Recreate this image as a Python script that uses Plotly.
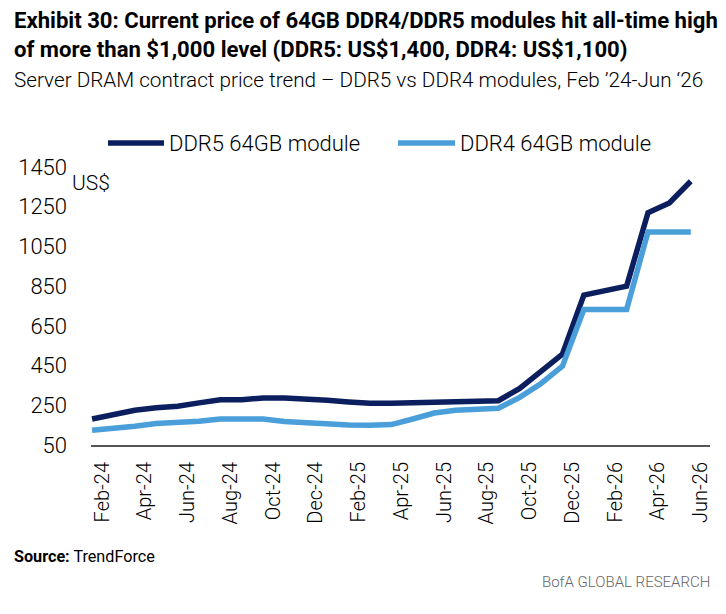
import plotly.graph_objects as go

months = ["Feb-24", "Mar-24", "Apr-24", "May-24", "Jun-24", "Jul-24", "Aug-24",
          "Sep-24", "Oct-24", "Nov-24", "Dec-24", "Jan-25", "Feb-25", "Mar-25",
          "Apr-25", "May-25", "Jun-25", "Jul-25", "Aug-25", "Sep-25", "Oct-25",
          "Nov-25", "Dec-25", "Jan-26", "Feb-26", "Mar-26", "Apr-26", "May-26",
          "Jun-26"]
ddr5 = [181, 202, 225, 238, 245, 262, 278, 278, 287, 287, 283, 275, 267, 260,
        260, 263, 267, 268, 270, 273, 335, 419, 508, 805, 828, 850, 1220, 1269,
        1378]
ddr4 = [124, 131, 144, 158, 161, 170, 181, 181, 181, 168, 161, 158, 151, 149,
        153, 181, 211, 225, 232, 235, 290, 360, 447, 732, 732, 732, 1123, 1123,
        1123]
tick_labels = months[::2]
y_ticks = [50, 250, 450, 650, 850, 1050, 1250, 1450]

DARK = "#0B1F5E"
LIGHT = "#4A9FDA"
FONT = "Roboto, sans-serif"

# plot area in pixels (726x614 page)
L, R, T, B = 91, 710, 167, 445.5

def px(x):
    return (x - L) / (R - L)

def py(y):
    return (B - y) / (B - T)

fig = go.Figure()
fig.add_trace(go.Scatter(x=months, y=ddr5, mode="lines", name="DDR5 64GB module",
                         line=dict(color=DARK, width=5.5)))
fig.add_trace(go.Scatter(x=months, y=ddr4, mode="lines", name="DDR4 64GB module",
                         line=dict(color=LIGHT, width=5.5)))

fig.update_xaxes(type="category", range=[-0.05, 28.9], tickvals=tick_labels,
                 tickangle=-90, showgrid=False, showline=True, linecolor="#555555",
                 linewidth=2, ticks="", ticklabelshift=10, ticklabelstandoff=7,
                 tickfont=dict(family=FONT, size=20, color="#000000", weight=300))
fig.update_yaxes(range=[50, 1450], tickvals=y_ticks, showgrid=False, zeroline=False,
                 showline=False, ticks="", ticklabelstandoff=23,
                 tickfont=dict(family=FONT, size=22, color="#000000", weight=300))

ann = [
    dict(text="<b>Exhibit 30: Current price of 64GB DDR4/DDR5 modules hit all-time high</b>",
         x=px(12), y=py(20), size=22.1, color="#000000", xa="left", w=400),
    dict(text="<b>of more than $1,000 level (DDR5: US$1,400, DDR4: US$1,100)</b>",
         x=px(12), y=py(49), size=22.1, color="#000000", xa="left", w=400),
    dict(text="Server DRAM contract price trend \u2013 DDR5 vs DDR4 modules, Feb \u201924-Jun \u201826",
         x=px(12), y=py(80), size=20.7, color="#000000", xa="left", w=300),
    dict(text="DDR5 64GB module", x=px(167), y=py(143), size=22, color="#000000", xa="left", w=300),
    dict(text="DDR4 64GB module", x=px(458), y=py(143), size=22, color="#000000", xa="left", w=300),
    dict(text="US$", x=px(70), y=py(183), size=21, color="#000000", xa="left", w=300),
    dict(text="<b>Source:</b> TrendForce", x=px(12), y=py(557), size=16.2, color="#000000", xa="left", w=400),
    dict(text="BofA GLOBAL RESEARCH", x=px(712), y=py(583), size=15, color="#666666", xa="right", w=300),
]
for a in ann:
    fig.add_annotation(text=a["text"], x=a["x"], y=a["y"], xref="paper", yref="paper",
                       xanchor=a["xa"], yanchor="middle", showarrow=False,
                       font=dict(family=FONT, size=a["size"], color=a["color"], weight=a["w"]))

# legend drawn by hand to match the long line keys
for x0, x1, c in [(108, 164, DARK), (398, 455, LIGHT)]:
    fig.add_shape(type="line", xref="paper", yref="paper", x0=px(x0), x1=px(x1),
                  y0=py(143), y1=py(143), line=dict(color=c, width=5.5))

fig.update_layout(width=726, height=614, showlegend=False,
                  margin=dict(l=L, r=726 - R, t=T, b=614 - B),
                  plot_bgcolor="white", paper_bgcolor="white",
                  font=dict(family=FONT))

fig.write_html("out.html", config={"displayModeBar": False},
               post_script="document.body.style.margin='0px';")
